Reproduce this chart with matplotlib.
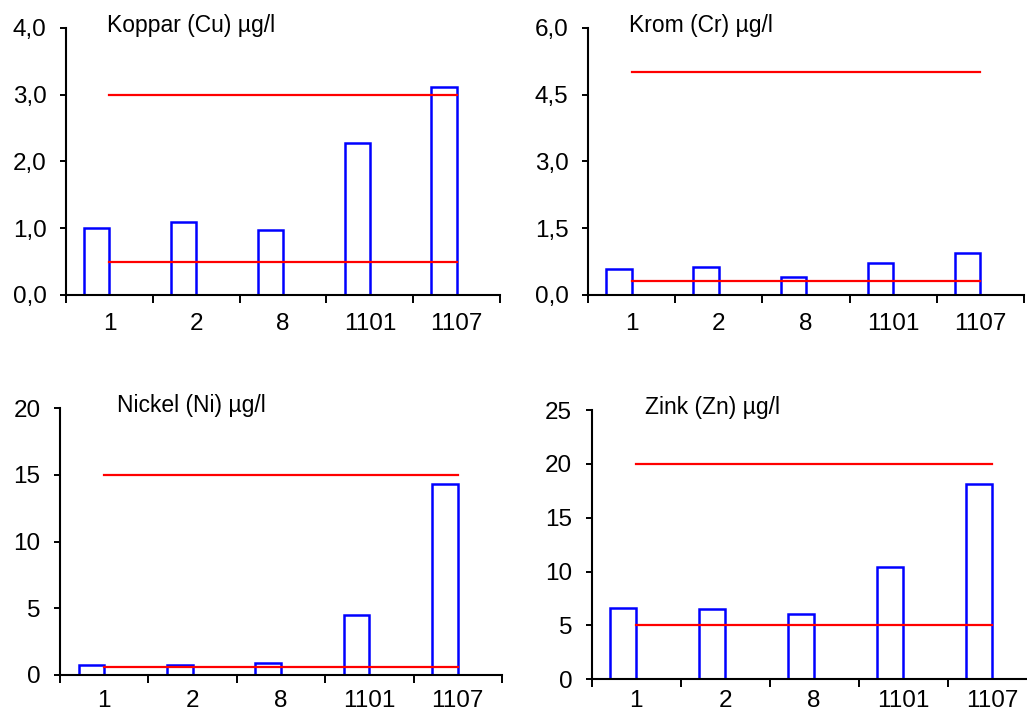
import numpy as np
import matplotlib
matplotlib.use("Agg")
import matplotlib.pyplot as plt
from matplotlib.ticker import FuncFormatter

plt.rcParams.update({
    "font.family": ["Liberation Sans", "DejaVu Sans"],
})

BLUE = "#0000FF"
RED = "#FF0000"

# ---- data ----
stations = ["1", "2", "8", "1101", "1107"]

cu_vals = [1.0, 1.1, 0.98, 2.27, 3.11]
cu_limits = [3.0, 0.5]

cr_vals = [0.58, 0.63, 0.40, 0.71, 0.94]
cr_limits = [5.0, 0.31]

ni_vals = [0.75, 0.75, 0.87, 4.48, 14.35]
ni_limits = [15.0, 0.58]

zn_vals = [6.65, 6.5, 6.1, 10.4, 18.1]
zn_limits = [20.0, 5.0]

panels = [
    # title, values, limits, ymax, ystep, decimal format, axes rect,
    # title x, x label pad
    ("Koppar (Cu) µg/l", cu_vals, cu_limits, 4.0, 1.0, True,
     [0.0643, 0.588, 0.4226, 0.3729], 0.094, 13),
    ("Krom (Cr) µg/l", cr_vals, cr_limits, 6.0, 1.5, True,
     [0.5725, 0.588, 0.4245, 0.3729], 0.094, 13),
    ("Nickel (Ni) µg/l", ni_vals, ni_limits, 20, 5, False,
     [0.0584, 0.0573, 0.4304, 0.3725], 0.13, 11),
    ("Zink (Zn) µg/l", zn_vals, zn_limits, 25, 5, False,
     [0.5761, 0.0513, 0.4333, 0.3760], 0.12, 8),
]

fig = plt.figure(figsize=(10.27, 7.16), dpi=100)
x = np.arange(len(stations))
bw = 0.29

for title, vals, limits, ymax, ystep, dec, rect, tx, xpad in panels:
    ax = fig.add_axes(rect)
    ax.bar(x, vals, width=-bw, align="edge", facecolor="white",
           edgecolor=BLUE, linewidth=1.8, zorder=2)
    for lim in limits:
        ax.plot([x[0], x[-1]], [lim, lim], color=RED, lw=1.6, zorder=3)

    ax.set_xlim(-0.5, len(stations) - 0.5)
    ax.set_ylim(0, ymax)
    ax.set_yticks(np.arange(0, ymax + ystep / 2, ystep))
    if dec:
        ax.yaxis.set_major_formatter(
            FuncFormatter(lambda v, p: f"{v:.1f}".replace(".", ",")))
    else:
        ax.yaxis.set_major_formatter(FuncFormatter(lambda v, p: f"{v:.0f}"))

    # ticks at category boundaries, labels at category centres
    ax.set_xticks(np.arange(-0.5, len(stations)))
    ax.set_xticklabels([])
    ax.set_xticks(x, minor=True)
    ax.set_xticklabels(stations, minor=True)
    ax.tick_params(axis="x", which="major", length=6, width=1.4,
                   direction="out")
    ax.tick_params(axis="x", which="minor", length=0, pad=xpad,
                   labelsize=17.5)
    ax.tick_params(axis="y", length=4, width=1.4, pad=10, labelsize=17.5)

    for s in ("top", "right"):
        ax.spines[s].set_visible(False)
    for s in ("left", "bottom"):
        ax.spines[s].set_linewidth(1.5)
    ax.spines["bottom"].set_zorder(4)

    ax.text(tx, 1.01, title, transform=ax.transAxes, fontsize=16.5,
            ha="left", va="center")

fig.savefig("out.png", dpi=100, facecolor="white")
